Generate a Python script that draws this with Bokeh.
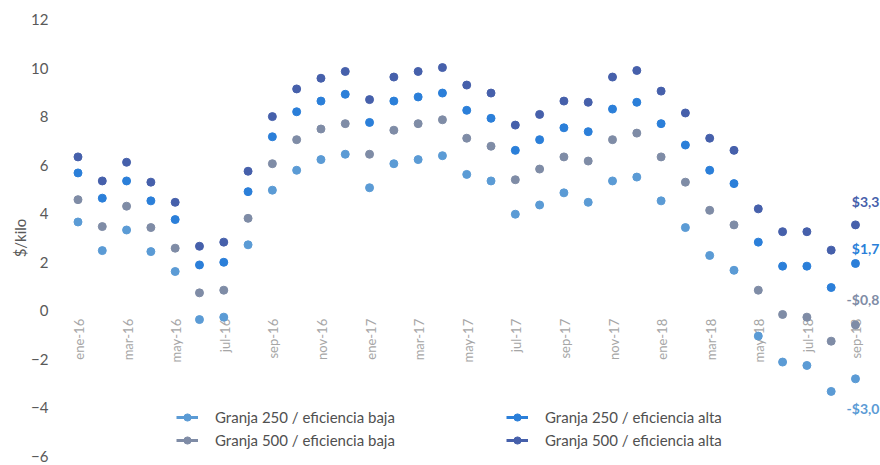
import math
from bokeh.plotting import figure
from bokeh.models import ColumnDataSource, Legend, LegendItem, Label, Title
from bokeh.core.properties import value
from bokeh.embed import file_html
from bokeh.resources import INLINE

# ---------------- data ----------------
months = ["ene-16", "feb-16", "mar-16", "abr-16", "may-16", "jun-16", "jul-16", "ago-16",
          "sep-16", "oct-16", "nov-16", "dic-16",
          "ene-17", "feb-17", "mar-17", "abr-17", "may-17", "jun-17", "jul-17", "ago-17",
          "sep-17", "oct-17", "nov-17", "dic-17",
          "ene-18", "feb-18", "mar-18", "abr-18", "may-18", "jun-18", "jul-18", "ago-18",
          "sep-18"]

g250_baja = [3.66, 2.48, 3.33, 2.44, 1.62, -0.36, -0.26, 2.72, 4.97, 5.79, 6.23, 6.45,
             5.07, 6.06, 6.23, 6.39, 5.62, 5.35, 3.98, 4.36, 4.86, 4.47, 5.35, 5.51,
             4.53, 3.43, 2.28, 1.67, -1.04, -2.11, -2.25, -3.32, -2.80]
g250_alta = [5.68, 4.64, 5.35, 4.53, 3.76, 1.89, 2.00, 4.91, 7.17, 8.20, 8.64, 8.92,
             7.76, 8.64, 8.81, 8.97, 8.26, 7.93, 6.61, 7.05, 7.54, 7.38, 8.31, 8.59,
             7.71, 6.83, 5.79, 5.24, 2.83, 1.84, 1.84, 0.96, 1.95]
g500_baja = [4.58, 3.47, 4.31, 3.43, 2.58, 0.74, 0.85, 3.81, 6.06, 7.05, 7.49, 7.71,
             6.45, 7.44, 7.71, 7.87, 7.11, 6.78, 5.40, 5.84, 6.34, 6.17, 7.05, 7.32,
             6.34, 5.30, 4.14, 3.54, 0.85, -0.15, -0.26, -1.25, -0.58]
g500_alta = [6.34, 5.35, 6.12, 5.30, 4.47, 2.66, 2.83, 5.75, 8.00, 9.14, 9.58, 9.86,
             8.70, 9.63, 9.86, 10.02, 9.30, 8.97, 7.65, 8.09, 8.64, 8.59, 9.63, 9.90,
             9.05, 8.15, 7.11, 6.61, 4.20, 3.26, 3.26, 2.50, 3.54]

series_names = ["Granja 250 / eficiencia baja", "Granja 250 / eficiencia alta",
                "Granja 500 / eficiencia baja", "Granja 500 / eficiencia alta"]
end_labels = ["-$3,0", "$1,7", "-$0,8", "$3,3"]
y_ticks = [-6, -4, -2, 0, 2, 4, 6, 8, 10, 12]
y_title = "$/kilo"

# ---------------- style ----------------
colors = ["#5B9BD5", "#2B7FD9", "#7F8CA6", "#4660AB"]
label_offsets = [-30, 15, 25, 23]   # px above (+) / below (-) last point
FONT = "Lato"

series = [g250_baja, g250_alta, g500_baja, g500_alta]
xs = list(range(len(months)))

p = figure(width=880, height=465, output_backend="svg", toolbar_location=None,
           x_range=(-0.72, 33.03), y_range=(-6, 12),
           min_border_left=60, min_border_right=0, min_border_top=19, min_border_bottom=9)
p.outline_line_color = None
p.xgrid.grid_line_color = None
p.ygrid.grid_line_color = None
p.background_fill_color = "white"

# axes
p.xaxis.visible = False
p.yaxis.ticker = y_ticks
p.yaxis.axis_line_color = None
p.yaxis.major_tick_line_color = None
p.yaxis.minor_tick_line_color = None
p.yaxis.major_label_text_font = FONT
p.yaxis.major_label_text_font_size = "15px"
p.yaxis.major_label_text_color = "#595959"
p.yaxis.major_label_standoff = 6

# y title
p.add_layout(Title(text=y_title, align="center", standoff=0,
                   text_font=FONT, text_font_size="15px", text_font_style="normal",
                   text_color="#595959"), "left")

# x tick labels at y = 0 (every second month)
tick_idx = xs[::2]
tick_src = ColumnDataSource(dict(x=tick_idx, y=[0] * len(tick_idx),
                                 t=[months[i] for i in tick_idx]))
p.text(x="x", y="y", text="t", source=tick_src, angle=math.pi / 2,
       text_align="right", text_baseline="middle", y_offset=8, x_offset=1,
       text_font=value(FONT), text_font_size="13px", text_color="#A6A6A6")

items = {}
for name, vals, col in zip(series_names, series, colors):
    src = ColumnDataSource(dict(x=xs, y=vals))
    ln = p.line(x=[float("nan")], y=[float("nan")], line_color=col, line_width=3)
    sc = p.scatter(x="x", y="y", source=src, marker="circle", size=8,
                   fill_color=col, line_color=col)
    items[name] = LegendItem(label=name, renderers=[ln, sc])

# end labels
for lab, vals, col, off in zip(end_labels, series, colors, label_offsets):
    p.add_layout(Label(x=xs[-1], y=vals[-1], text=lab, x_offset=24, y_offset=off,
                       text_align="right", text_baseline="middle",
                       text_font=FONT, text_font_size="14px",
                       text_font_style="bold", text_color=col))

order = [series_names[0], series_names[2], series_names[1], series_names[3]]
legend = Legend(items=[items[n] for n in order], ncols=2, location=(116, 7),
                glyph_width=22, glyph_height=18, label_height=18,
                label_standoff=17, label_width=286, spacing=5, padding=0,
                label_text_font=FONT, label_text_font_size="15px",
                label_text_color="#505050",
                background_fill_alpha=0, border_line_alpha=0)
p.add_layout(legend, "center")

open("out.html", "w").write(file_html(p, INLINE))
